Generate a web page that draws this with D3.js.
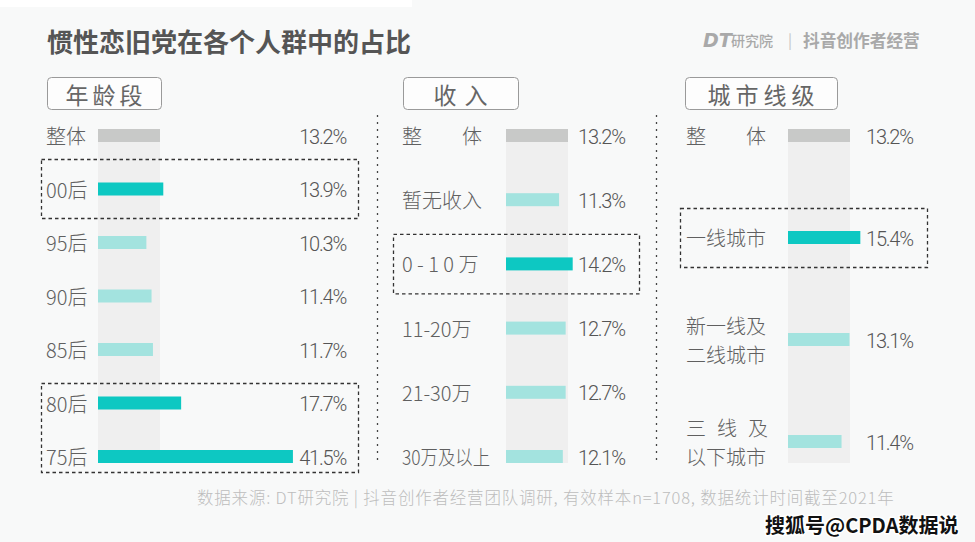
<!DOCTYPE html>
<html><head><meta charset="utf-8">
<script src="https://cdn.jsdelivr.net/npm/d3@7"></script>
<style>
html,body{margin:0;padding:0;background:#f8f9f9;}
svg{display:block;}
</style></head>
<body>
<script>
// ---- data ----
const title = "惯性恋旧党在各个人群中的占比";
const overallValue = 13.2;

const ageGroupTitle = "年龄段";
const ageLabels = ["整体", "00后", "95后", "90后", "85后", "80后", "75后"];
const ageValues = [13.2, 13.9, 10.3, 11.4, 11.7, 17.7, 41.5];
const ageHighlight = [false, true, false, false, false, true, true];

const incomeGroupTitle = "收入";
const incomeLabels = ["整　　体", "暂无收入", "0 - 1 0 万", "11-20万", "21-30万", "30万及以上"];
const incomeValues = [13.2, 11.3, 14.2, 12.7, 12.7, 12.1];
const incomeHighlight = [false, false, true, false, false, false];

const cityGroupTitle = "城市线级";
const cityLabels = [["整　　体"], ["一线城市"], ["新一线及", "二线城市"], ["三线及", "以下城市"]];
const cityValues = [13.2, 15.4, 13.1, 11.4];
const cityHighlight = [false, true, false, false];

const sourceText = "数据来源: DT研究院 | 抖音创作者经营团队调研, 有效样本n=1708, 数据统计时间截至2021年";
const brandLeft = ["DT", "研究院"];
const brandRight = "抖音创作者经营";
const watermark = "搜狐号@CPDA数据说";

// ---- drawing ----
const W = 975, H = 542;
const svg = d3.select("body").append("svg").attr("width", W).attr("height", H);
svg.append("rect").attr("width", W).attr("height", H).attr("fill", "#f8f9f9");
svg.append("rect").attr("width", 412).attr("height", 7).attr("fill", "#ffffff");

const CJK = "'Noto Sans CJK SC','Noto Sans',sans-serif";
const NUM = "Roboto,'Noto Sans CJK SC',sans-serif";

svg.append("text").attr("x", 47).attr("y", 52)
  .attr("font-family", CJK).attr("font-weight", 700).attr("font-size", 26)
  .attr("fill", "#555").text(title);

// header brand
const brand = svg.append("g").attr("fill", "#a9a9a9");
brand.append("text").attr("x", 703).attr("y", 47).attr("font-family", "'DejaVu Sans',sans-serif")
  .attr("font-weight", 700).attr("font-style", "italic").attr("font-size", 19).text(brandLeft[0]);
brand.append("text").attr("x", 731).attr("y", 46).attr("font-family", CJK)
  .attr("font-size", 14).attr("font-weight", 500).text(brandLeft[1]);
brand.append("text").attr("x", 788).attr("y", 46).attr("font-family", CJK)
  .attr("font-size", 15).attr("fill", "#c4c4c4").text("|");
brand.append("text").attr("x", 803).attr("y", 47).attr("font-family", CJK)
  .attr("font-weight", 700).attr("font-size", 16.7).text(brandRight);

// shared x scale
const x = d3.scaleLinear().domain([0, overallValue]).range([0, 62]);
const barH = 13;
const colTop = 129, colBottom = 463;

const C_HI = "#0dc8c2", C_NORM = "#a3e3df", C_ALL = "#c8c9c8", C_COL = "#efefef";

function groupTitle(x0, x1, text, ls) {
  svg.append("rect").attr("x", x0 + 0.5).attr("y", 77.5).attr("width", x1 - x0).attr("height", 32)
    .attr("rx", 4).attr("fill", "#fdfdfd").attr("stroke", "#9a9a9a").attr("stroke-width", 1);
  svg.append("text").attr("x", (x0 + x1) / 2 + ls / 2).attr("y", 94)
    .attr("text-anchor", "middle").attr("dominant-baseline", "central")
    .attr("font-family", CJK).attr("font-size", 23).attr("letter-spacing", ls)
    .attr("fill", "#666").text(text);
}

function panel(opt) {
  const g = svg.append("g");
  const y = d3.scalePoint().domain(d3.range(opt.values.length)).range(opt.yRange);
  // column
  g.append("rect").attr("x", opt.barX).attr("y", colTop).attr("width", x(overallValue))
    .attr("height", colBottom - colTop).attr("fill", C_COL);
  // bars
  g.selectAll("rect.bar").data(opt.values).join("rect").attr("class", "bar")
    .attr("x", opt.barX).attr("y", (d, i) => y(i) - barH / 2)
    .attr("width", d => x(d)).attr("height", barH)
    .attr("fill", (d, i) => i === 0 ? C_ALL : (opt.highlight[i] ? C_HI : C_NORM));
  // labels
  opt.labels.forEach((lab, i) => {
    const lines = Array.isArray(lab) ? lab : [lab];
    lines.forEach((ln, k) => {
      const t = g.append("text").attr("x", opt.labelX)
        .attr("y", y(i) + (k - (lines.length - 1) / 2) * 29)
        .attr("dominant-baseline", "central")
        .attr("font-family", CJK).attr("font-weight", 300).attr("font-size", 20)
        .attr("fill", "#606060").text(ln);
      const len = t.node().getComputedTextLength();
      if (opt.maxLabelW && len > opt.maxLabelW) {
        t.attr("textLength", opt.maxLabelW).attr("lengthAdjust", "spacingAndGlyphs");
      } else if (lines.length > 1 && ln.length < 4) {
        t.attr("textLength", 82).attr("lengthAdjust", "spacing");
      }
    });
  });
  // values
  g.selectAll("text.val").data(opt.values).join("text").attr("class", "val")
    .attr("x", opt.valueX).attr("y", (d, i) => y(i) + 1)
    .attr("text-anchor", opt.valueAnchor).attr("dominant-baseline", "central")
    .attr("font-family", NUM).attr("font-weight", 300).attr("font-size", 20)
    .attr("letter-spacing", -1.2).attr("fill", "#555")
    .text(d => d3.format(".1f")(d) + "%");
  // highlight boxes
  opt.boxes.forEach(b => {
    const top = y(b[0]) - b[2], bot = y(b[1]) + b[3];
    g.append("rect").attr("x", opt.boxX[0] + 0.5).attr("y", top + 0.5)
      .attr("width", opt.boxX[1] - opt.boxX[0]).attr("height", bot - top)
      .attr("fill", "none").attr("stroke", "#333").attr("stroke-width", 1.3)
      .attr("stroke-dasharray", "3.5,3");
  });
}

groupTitle(47, 161, ageGroupTitle, 4);
groupTitle(403, 518, incomeGroupTitle, 8);
groupTitle(685, 837, cityGroupTitle, 5);

panel({
  labels: ageLabels, values: ageValues, highlight: ageHighlight,
  yRange: [135.5, 456.5], barX: 98, labelX: 46, valueX: 346, valueAnchor: "end",
  boxX: [41, 358], boxes: [[1, 1, 30, 29], [5, 6, 20, 15.5]]
});
panel({
  labels: incomeLabels, values: incomeValues, highlight: incomeHighlight,
  yRange: [135.5, 456.5], barX: 506, labelX: 402, valueX: 578, valueAnchor: "start",
  boxX: [393, 639], boxes: [[2, 2, 30, 29.5]], maxLabelW: 88
});
panel({
  labels: cityLabels, values: cityValues, highlight: cityHighlight,
  yRange: [135.5, 441.5], barX: 788, labelX: 686, valueX: 866, valueAnchor: "start",
  boxX: [680, 927], boxes: [[1, 1, 29.5, 29.5]]
});

// separators
[377.5, 656.5].forEach(sx => {
  svg.append("line").attr("x1", sx).attr("x2", sx).attr("y1", 115).attr("y2", 464)
    .attr("stroke", "#444").attr("stroke-width", 1.3).attr("stroke-dasharray", "2,5");
});

// source
svg.append("text").attr("x", 197).attr("y", 497).attr("dominant-baseline", "central")
  .attr("font-family", CJK).attr("font-weight", 300).attr("font-size", 16.5)
  .attr("letter-spacing", 0.8)
  .attr("fill", "#bdbdbd").text(sourceText);

// watermark
svg.append("text").attr("x", 765).attr("y", 524).attr("dominant-baseline", "central")
  .attr("font-family", CJK).attr("font-weight", 700).attr("font-size", 20)
  .attr("fill", "#111").attr("stroke", "#fff").attr("stroke-width", 3).attr("paint-order", "stroke")
  .text(watermark);
</script>
</body></html>
